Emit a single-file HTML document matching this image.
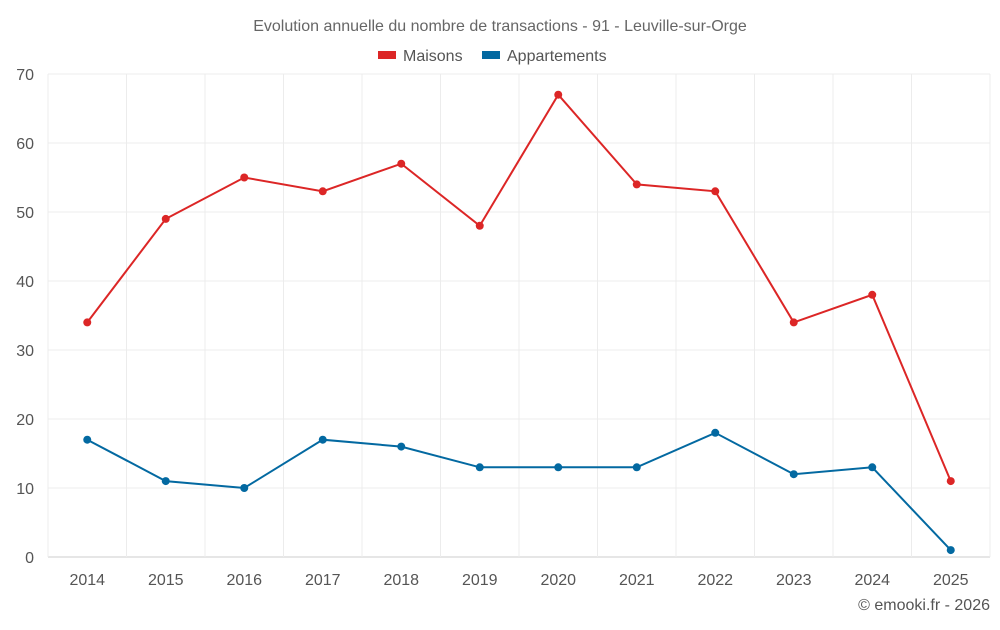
<!DOCTYPE html>
<html><head><meta charset="utf-8"><style>
body{margin:0;background:#fff;font-family:"Liberation Sans",sans-serif;}
svg text{font-family:"Liberation Sans",sans-serif;}
</style></head><body>
<svg id="c" width="1000" height="625">
<text x="500" y="31" text-anchor="middle" font-size="16" fill="#666">Evolution annuelle du nombre de transactions - 91 - Leuville-sur-Orge</text>
<g><rect x="378" y="51" width="18" height="8" fill="#dc2626"/><text x="403" y="61" font-size="16" fill="#555">Maisons</text></g>
<g><rect x="482" y="51" width="18" height="8" fill="#0369a1"/><text x="507" y="61" font-size="16" fill="#555">Appartements</text></g>
<g id="grid"></g><g id="axes"></g><g id="series"></g>
<text x="990" y="610" text-anchor="end" font-size="16" fill="#555">© emooki.fr - 2026</text>
</svg>
<script>
const categories=["2014","2015","2016","2017","2018","2019","2020","2021","2022","2023","2024","2025"];
const maisons=[34,49,55,53,57,48,67,54,53,34,38,11];
const appartements=[17,11,10,17,16,13,13,13,18,12,13,1];
const yTicks=[0,10,20,30,40,50,60,70];
const L=48,R=990,T=74,B=557,yMax=70;
const bw=(R-L)/categories.length;
const x=i=>L+bw*(i+0.5);
const y=v=>B-(v/yMax)*(B-T);
const NS="http://www.w3.org/2000/svg";
function mk(p,t,a){const e=document.createElementNS(NS,t);for(const k in a)e.setAttribute(k,a[k]);p.appendChild(e);return e;}
const grid=document.getElementById('grid'),axes=document.getElementById('axes'),ser=document.getElementById('series');
yTicks.forEach(v=>{
 const l=mk(grid,'line',{x1:L,x2:R,y1:y(v),y2:y(v),stroke:v===0?'#ccc':'#ececec'});
 
 
 const t=mk(axes,'text',{x:L-14,y:y(v)+6,'text-anchor':'end','font-size':16,fill:'#555'});t.textContent=v;
 
 
});
for(let i=0;i<=categories.length;i++){
 const l=mk(grid,'line',{x1:L+bw*i,x2:L+bw*i,y1:T,y2:B,stroke:'#ececec'});
 
 
}
categories.forEach((c,i)=>{
 const t=mk(axes,'text',{x:x(i),y:585,'text-anchor':'middle','font-size':16,fill:'#555'});t.textContent=c;
 
 
});
function draw(data,color,name){
 const p=mk(ser,'polyline',{points:data.map((v,i)=>x(i)+','+y(v)).join(' '),fill:'none',stroke:color,'stroke-width':2});
 
 
 data.forEach((v,i)=>{
  const c=mk(ser,'circle',{cx:x(i),cy:y(v),r:4,fill:color});
  
  
 });
}
draw(maisons,'#dc2626','maisons');
draw(appartements,'#0369a1','appartements');
</script>
</body></html>
